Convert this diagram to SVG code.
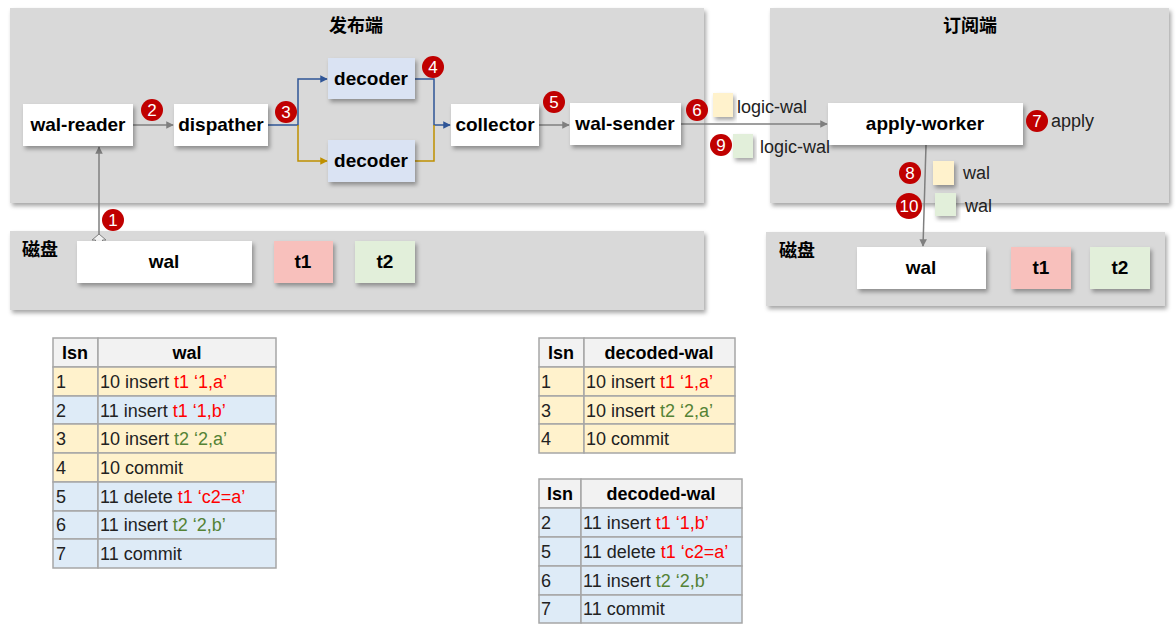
<svg xmlns="http://www.w3.org/2000/svg" width="1176" height="630" viewBox="0 0 1176 630">
<defs>
<filter id="sh" x="-10%" y="-10%" width="130%" height="140%">
<feDropShadow dx="2" dy="3" stdDeviation="2" flood-color="#000" flood-opacity="0.35"/>
</filter>
<marker id="ag" viewBox="0 0 10 10" refX="9" refY="5" markerWidth="5" markerHeight="5" orient="auto"><path d="M0,0 L10,5 L0,10 z" fill="#7f7f7f"/></marker>
<marker id="ab" viewBox="0 0 10 10" refX="9" refY="5" markerWidth="5" markerHeight="5" orient="auto"><path d="M0,0 L10,5 L0,10 z" fill="#2f5597"/></marker>
<marker id="ay" viewBox="0 0 10 10" refX="9" refY="5" markerWidth="5" markerHeight="5" orient="auto"><path d="M0,0 L10,5 L0,10 z" fill="#bf9000"/></marker>
</defs>
<style>
.panel{fill:#d9d9d9;filter:url(#sh)}
.node{fill:#fff;filter:url(#sh)}
.dec{fill:#dae3f3;filter:url(#sh)}
.t1{fill:#f8c0bc;filter:url(#sh)}
.t2{fill:#e2efda;filter:url(#sh)}
.sy{fill:#fff2cc;filter:url(#sh)}
.sg{fill:#e2efda;filter:url(#sh)}
.lbl{font-family:"Liberation Sans","Noto Sans CJK SC",sans-serif;font-weight:bold;font-size:19px;fill:#000;text-anchor:middle}
.ttl{font-family:"Noto Sans CJK SC",sans-serif;font-weight:bold;font-size:18px;fill:#000}
.txt{font-family:"Liberation Sans","Noto Sans CJK SC",sans-serif;font-size:18px;fill:#222}
.badge circle{fill:#c00000}
.badge text{font-family:"Liberation Sans",sans-serif;font-size:17px;fill:#fff;text-anchor:middle}
.cg{stroke:#7f7f7f;stroke-width:1.5;fill:none}
.cb{stroke:#2f5597;stroke-width:1.5;fill:none}
.cy{stroke:#bf9000;stroke-width:1.5;fill:none}
.hd{fill:#f2f2f2;stroke:#a6a6a6;stroke-width:1.5}
.ry{fill:#fff2cc;stroke:#a6a6a6;stroke-width:1.5}
.rb{fill:#deebf7;stroke:#a6a6a6;stroke-width:1.5}
.th{font-family:"Liberation Sans","Noto Sans CJK SC",sans-serif;font-weight:bold;font-size:18px;fill:#000;text-anchor:middle}
.r{fill:#ff0000}
.g{fill:#548235}
</style>

<g id="publisher">
<rect class="panel" x="10" y="8" width="694" height="195"/>
<text class="ttl" x="356" y="32" text-anchor="middle">发布端</text>
</g>
<g id="subscriber">
<rect class="panel" x="770" y="8" width="399" height="195"/>
<text class="ttl" x="970" y="32" text-anchor="middle">订阅端</text>
</g>
<g id="disk-left">
<rect class="panel" x="10" y="231" width="694" height="79"/>
<text class="ttl" x="22" y="256">磁盘</text>
</g>
<g id="disk-right">
<rect class="panel" x="766" y="232" width="399" height="74"/>
<text class="ttl" x="779" y="257">磁盘</text>
</g>

<g id="connectors">
<path class="cg" d="M133,125 H173" marker-end="url(#ag)"/>
<path class="cg" d="M99,237 V147" marker-end="url(#ag)"/>
<path d="M92,240 L99,234 L106,240 L102.5,240 L102.5,243 L95.5,243 L95.5,240 Z" fill="#f2f2f2" stroke="#7f7f7f" stroke-width="1"/>
<path class="cb" d="M268,125 H298 V79 H327" marker-end="url(#ab)"/>
<path class="cy" d="M298,125 V161 H327" marker-end="url(#ay)"/>
<path class="cb" d="M415,79 H434 V125 H450" marker-end="url(#ab)"/>
<path class="cy" d="M415,161 H434 V125"/>
<path class="cg" d="M539,125 H569" marker-end="url(#ag)"/>
<path class="cg" d="M681,124 H827" marker-end="url(#ag)"/>
<path class="cg" d="M926,145 L923,246" marker-end="url(#ag)"/>
</g>

<g id="wal-reader"><rect class="node" x="23" y="104" width="110" height="42"/><text class="lbl" x="78" y="131">wal-reader</text></g>
<g id="dispather"><rect class="node" x="174" y="104" width="94" height="42"/><text class="lbl" x="221" y="131">dispather</text></g>
<g id="decoder1"><rect class="dec" x="328" y="58" width="87" height="41"/><text class="lbl" x="371" y="85">decoder</text></g>
<g id="decoder2"><rect class="dec" x="328" y="140" width="87" height="42"/><text class="lbl" x="371" y="167">decoder</text></g>
<g id="collector"><rect class="node" x="451" y="104" width="88" height="42"/><text class="lbl" x="495" y="131">collector</text></g>
<g id="wal-sender"><rect class="node" x="570" y="103" width="111" height="42"/><text class="lbl" x="625" y="130">wal-sender</text></g>
<g id="apply-worker"><rect class="node" x="828" y="103" width="195" height="42"/><text class="lbl" x="925" y="130">apply-worker</text></g>
<g id="wal-left"><rect class="node" x="77" y="241" width="175" height="42"/><text class="lbl" x="164" y="268">wal</text></g>
<g id="t1-left"><rect class="t1" x="274" y="241" width="59" height="42"/><text class="lbl" x="303" y="268">t1</text></g>
<g id="t2-left"><rect class="t2" x="355" y="241" width="60" height="42"/><text class="lbl" x="385" y="268">t2</text></g>
<g id="wal-right"><rect class="node" x="857" y="247" width="129" height="42"/><text class="lbl" x="921" y="274">wal</text></g>
<g id="t1-right"><rect class="t1" x="1011" y="247" width="60" height="42"/><text class="lbl" x="1041" y="274">t1</text></g>
<g id="t2-right"><rect class="t2" x="1090" y="247" width="60" height="42"/><text class="lbl" x="1120" y="274">t2</text></g>

<g id="labels">
<rect class="sy" x="713" y="93" width="20" height="24"/>
<text class="txt" x="737" y="113">logic-wal</text>
<rect class="sg" x="733" y="134" width="20" height="24"/>
<text class="txt" x="760" y="153">logic-wal</text>
<text class="txt" x="1051" y="127">apply</text>
<rect class="sy" x="933" y="161" width="21" height="24"/>
<text class="txt" x="963" y="179">wal</text>
<rect class="sg" x="935" y="193" width="21" height="23"/>
<text class="txt" x="965" y="212">wal</text>
</g>

<g id="badges">
<g class="badge"><circle cx="113" cy="220" r="11"/><text x="113" y="226">1</text></g>
<g class="badge"><circle cx="152" cy="110" r="11"/><text x="152" y="116">2</text></g>
<g class="badge"><circle cx="286" cy="112" r="11"/><text x="286" y="118">3</text></g>
<g class="badge"><circle cx="433" cy="67" r="11"/><text x="433" y="73">4</text></g>
<g class="badge"><circle cx="554" cy="102" r="11"/><text x="554" y="108">5</text></g>
<g class="badge"><circle cx="697" cy="110" r="11"/><text x="697" y="116">6</text></g>
<g class="badge"><circle cx="1037" cy="121" r="11"/><text x="1037" y="127">7</text></g>
<g class="badge"><circle cx="910" cy="173" r="11"/><text x="910" y="179">8</text></g>
<g class="badge"><circle cx="721" cy="145" r="11"/><text x="721" y="151">9</text></g>
<g class="badge"><circle cx="909" cy="206" r="13"/><text x="909" y="212">10</text></g>
</g>

<g id="table-wal">
<rect class="hd" x="53" y="338" width="45" height="29"/><rect class="hd" x="98" y="338" width="178" height="29"/>
<text class="th" x="75" y="359">lsn</text><text class="th" x="187" y="359">wal</text>
<rect class="ry" x="53" y="367" width="45" height="29"/><rect class="ry" x="98" y="367" width="178" height="29"/>
<rect class="rb" x="53" y="396" width="45" height="28"/><rect class="rb" x="98" y="396" width="178" height="28"/>
<rect class="ry" x="53" y="424" width="45" height="29"/><rect class="ry" x="98" y="424" width="178" height="29"/>
<rect class="ry" x="53" y="453" width="45" height="29"/><rect class="ry" x="98" y="453" width="178" height="29"/>
<rect class="rb" x="53" y="482" width="45" height="29"/><rect class="rb" x="98" y="482" width="178" height="29"/>
<rect class="rb" x="53" y="511" width="45" height="28"/><rect class="rb" x="98" y="511" width="178" height="28"/>
<rect class="rb" x="53" y="539" width="45" height="29"/><rect class="rb" x="98" y="539" width="178" height="29"/>
<text class="txt" x="56" y="388">1</text><text class="txt" x="100" y="388">10 insert <tspan class="r">t1 ‘1,a’</tspan></text>
<text class="txt" x="56" y="417">2</text><text class="txt" x="100" y="417">11 insert <tspan class="r">t1 ‘1,b’</tspan></text>
<text class="txt" x="56" y="445">3</text><text class="txt" x="100" y="445">10 insert <tspan class="g">t2 ‘2,a’</tspan></text>
<text class="txt" x="56" y="474">4</text><text class="txt" x="100" y="474">10 commit</text>
<text class="txt" x="56" y="503">5</text><text class="txt" x="100" y="503">11 delete <tspan class="r">t1 ‘c2=a’</tspan></text>
<text class="txt" x="56" y="531">6</text><text class="txt" x="100" y="531">11 insert <tspan class="g">t2 ‘2,b’</tspan></text>
<text class="txt" x="56" y="560">7</text><text class="txt" x="100" y="560">11 commit</text>
</g>

<g id="table-decoded-10">
<rect class="hd" x="539" y="338" width="45" height="29"/><rect class="hd" x="584" y="338" width="151" height="29"/>
<text class="th" x="561" y="359">lsn</text><text class="th" x="659" y="359">decoded-wal</text>
<rect class="ry" x="539" y="367" width="45" height="29"/><rect class="ry" x="584" y="367" width="151" height="29"/>
<rect class="ry" x="539" y="396" width="45" height="28"/><rect class="ry" x="584" y="396" width="151" height="28"/>
<rect class="ry" x="539" y="424" width="45" height="29"/><rect class="ry" x="584" y="424" width="151" height="29"/>
<text class="txt" x="541" y="388">1</text><text class="txt" x="586" y="388">10 insert <tspan class="r">t1 ‘1,a’</tspan></text>
<text class="txt" x="541" y="417">3</text><text class="txt" x="586" y="417">10 insert <tspan class="g">t2 ‘2,a’</tspan></text>
<text class="txt" x="541" y="445">4</text><text class="txt" x="586" y="445">10 commit</text>
</g>

<g id="table-decoded-11">
<rect class="hd" x="539" y="479" width="42" height="29"/><rect class="hd" x="581" y="479" width="161" height="29"/>
<text class="th" x="560" y="500">lsn</text><text class="th" x="661" y="500">decoded-wal</text>
<rect class="rb" x="539" y="508" width="42" height="29"/><rect class="rb" x="581" y="508" width="161" height="29"/>
<rect class="rb" x="539" y="537" width="42" height="29"/><rect class="rb" x="581" y="537" width="161" height="29"/>
<rect class="rb" x="539" y="566" width="42" height="29"/><rect class="rb" x="581" y="566" width="161" height="29"/>
<rect class="rb" x="539" y="595" width="42" height="28"/><rect class="rb" x="581" y="595" width="161" height="28"/>
<text class="txt" x="541" y="529">2</text><text class="txt" x="583" y="529">11 insert <tspan class="r">t1 ‘1,b’</tspan></text>
<text class="txt" x="541" y="558">5</text><text class="txt" x="583" y="558">11 delete <tspan class="r">t1 ‘c2=a’</tspan></text>
<text class="txt" x="541" y="587">6</text><text class="txt" x="583" y="587">11 insert <tspan class="g">t2 ‘2,b’</tspan></text>
<text class="txt" x="541" y="615">7</text><text class="txt" x="583" y="615">11 commit</text>
</g>
</svg>
